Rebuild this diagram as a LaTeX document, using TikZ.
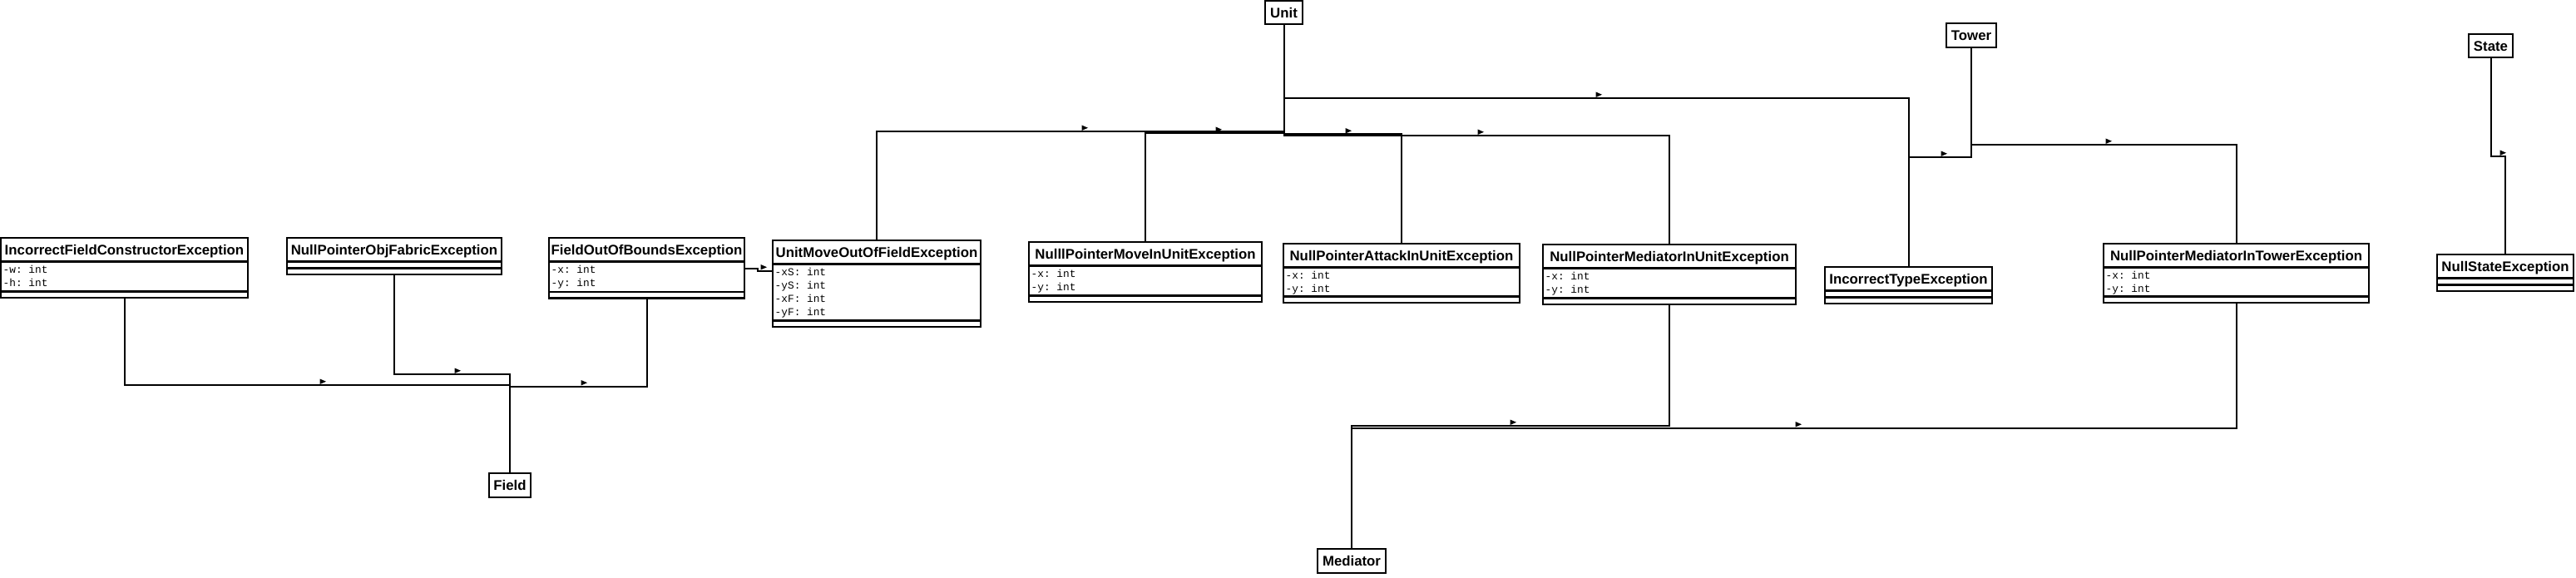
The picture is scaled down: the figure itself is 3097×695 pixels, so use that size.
\documentclass[tikz,border=0pt]{standalone}
\usepackage{fontspec}
\setmainfont{Liberation Sans}
\setmonofont{Liberation Mono}
\usepackage{tikz}
\newcommand\ttlfont{\fontsize{16.8}{20}\selectfont\bfseries}
\newcommand\attfont{\ttfamily\fontsize{12.8}{16}\selectfont}
\newcommand\umlclass[6]{%
  \node[ttl, minimum width=#3, anchor=north west] (#1) at (#2) {#4};
  \node[attbox, minimum width=#3, minimum height=#5, anchor=north] (#1-a) at (#1.south) {};
  \node[atttext, anchor=north west] at ([shift={(2.5,3)}]#1-a.north west) {\rule{0pt}{10.5pt}#6};
  \node[opsbox, minimum width=#3, anchor=north] (#1-o) at (#1-a.south) {};
}
\newcommand\dirtip[1]{\fill (#1) ++(-3.5,-1) -- ++(0,-6.5) -- ++(7.5,3.25) -- cycle;}

\begin{document}
\begin{tikzpicture}[x=1pt, y=-1pt,
    ttl/.style={draw, line width=2.4pt, outer sep=0pt, inner sep=0pt, minimum height=28.5,
      font=\ttlfont, text height=12.2pt, text depth=0pt},
    attbox/.style={draw, line width=2.4pt, outer sep=0pt, inner sep=0pt},
    atttext/.style={inner sep=0pt, align=left, font=\attfont},
    opsbox/.style={draw, line width=2.4pt, outer sep=0pt, inner sep=0pt, minimum height=7.5},
    obj/.style={draw, line width=2.4pt, outer sep=0pt, inner sep=0pt, minimum height=28.5,
      font=\ttlfont, text height=12.2pt, text depth=0pt},
    link/.style={line width=2pt}]
  \useasboundingbox (0,0) rectangle (3097,695);

  \node[obj, minimum width=45] (unit) at (1543.5,15) {Unit};
  \node[obj, minimum width=60] (tower) at (2370,42.5) {Tower};
  \node[obj, minimum width=53] (state) at (2994.5,55) {State};
  \node[obj, minimum width=50] (field) at (613,583.5) {Field};
  \node[obj, minimum width=82] (mediator) at (1625,674.5) {Mediator};

  \umlclass{ifce}{1,286}{297}{IncorrectFieldConstructorException}{36}{-w: int\\-h: int}
  \umlclass{npof}{345,286}{258}{NullPointerObjFabricException}{8}{}
  \umlclass{foob}{660,286}{235}{FieldOutOfBoundsException}{36.5}{-x: int\\-y: int}
  \umlclass{umof}{929,289}{250}{UnitMoveOutOfFieldException}{68}{-xS: int\\-yS: int\\-xF: int\\-yF: int}
  \umlclass{npmu}{1237,291}{280}{NulllPointerMoveInUnitException}{36}{-x: int\\-y: int}
  \umlclass{npau}{1543,293}{284}{NullPointerAttackInUnitException}{35}{-x: int\\-y: int}
  \umlclass{npmd}{1855,294}{304}{NullPointerMediatorInUnitException}{36}{-x: int\\-y: int}
  \umlclass{ite}{2194,321}{201}{IncorrectTypeException}{8}{}
  \umlclass{npmt}{2529,293}{319}{NullPointerMediatorInTowerException}{35}{-x: int\\-y: int}
  \umlclass{nse}{2930,306}{164}{NullStateException}{8}{}

  \coordinate (uhi) at (0,118);
  \coordinate (ulo1) at (0,158);
  \coordinate (ulo2) at (0,160);
  \coordinate (ulo3) at (0,161.5);
  \coordinate (ulo4) at (0,163);
  \coordinate (thi) at (0,174);
  \coordinate (tlo) at (0,189);
  \coordinate (slvl) at (0,188);
  \coordinate (mlvl1) at (0,512);
  \coordinate (mlvl2) at (0,514.5);
  \coordinate (flvl1) at (0,463);
  \coordinate (flvl2) at (0,450);
  \coordinate (flvl3) at (0,464.5);
  \coordinate (fuy1) at (0,323);
  \coordinate (fuy2) at (0,325.5);

  \draw[link] (unit.south) |- (uhi -| ite.north) -- (ite.north);
  \draw[link] (unit.south) |- (ulo1 -| umof.north) -- (umof.north);
  \draw[link] (unit.south) |- (ulo2 -| npmu.north) -- (npmu.north);
  \draw[link] (unit.south) |- (ulo3 -| npau.north) -- (npau.north);
  \draw[link] (unit.south) |- (ulo4 -| npmd.north) -- (npmd.north);
  \draw[link] (tower.south) |- (tlo -| ite.north) -- (ite.north);
  \draw[link] (tower.south) |- (thi -| npmt.north) -- (npmt.north);
  \draw[link] (state.south) |- (slvl -| nse.north) -- (nse.north);
  \draw[link] (npmd-o.south) |- (mlvl1 -| mediator.north) -- (mediator.north);
  \draw[link] (npmt-o.south) |- (mlvl2 -| mediator.north) -- (mediator.north);
  \draw[link] (ifce-o.south) |- (flvl1 -| field.north) -- (field.north);
  \draw[link] (npof-o.south) |- (flvl2 -| field.north) -- (field.north);
  \draw[link] (foob-o.south) |- (flvl3 -| field.north) -- (field.north);
  \draw[link] (fuy1 -| foob-a.east) -- ++(16,0) |- (fuy2 -| umof-a.west);

  \dirtip{1922,118}
  \dirtip{1304,158}
  \dirtip{1465,160}
  \dirtip{1621,161.5}
  \dirtip{1780,163}
  \dirtip{2337,189}
  \dirtip{2535,174}
  \dirtip{3009,188}
  \dirtip{1819,512}
  \dirtip{2162,514.5}
  \dirtip{388,463}
  \dirtip{550,450}
  \dirtip{702,464.5}
  \dirtip{918,325.5}
\end{tikzpicture}
\end{document}
